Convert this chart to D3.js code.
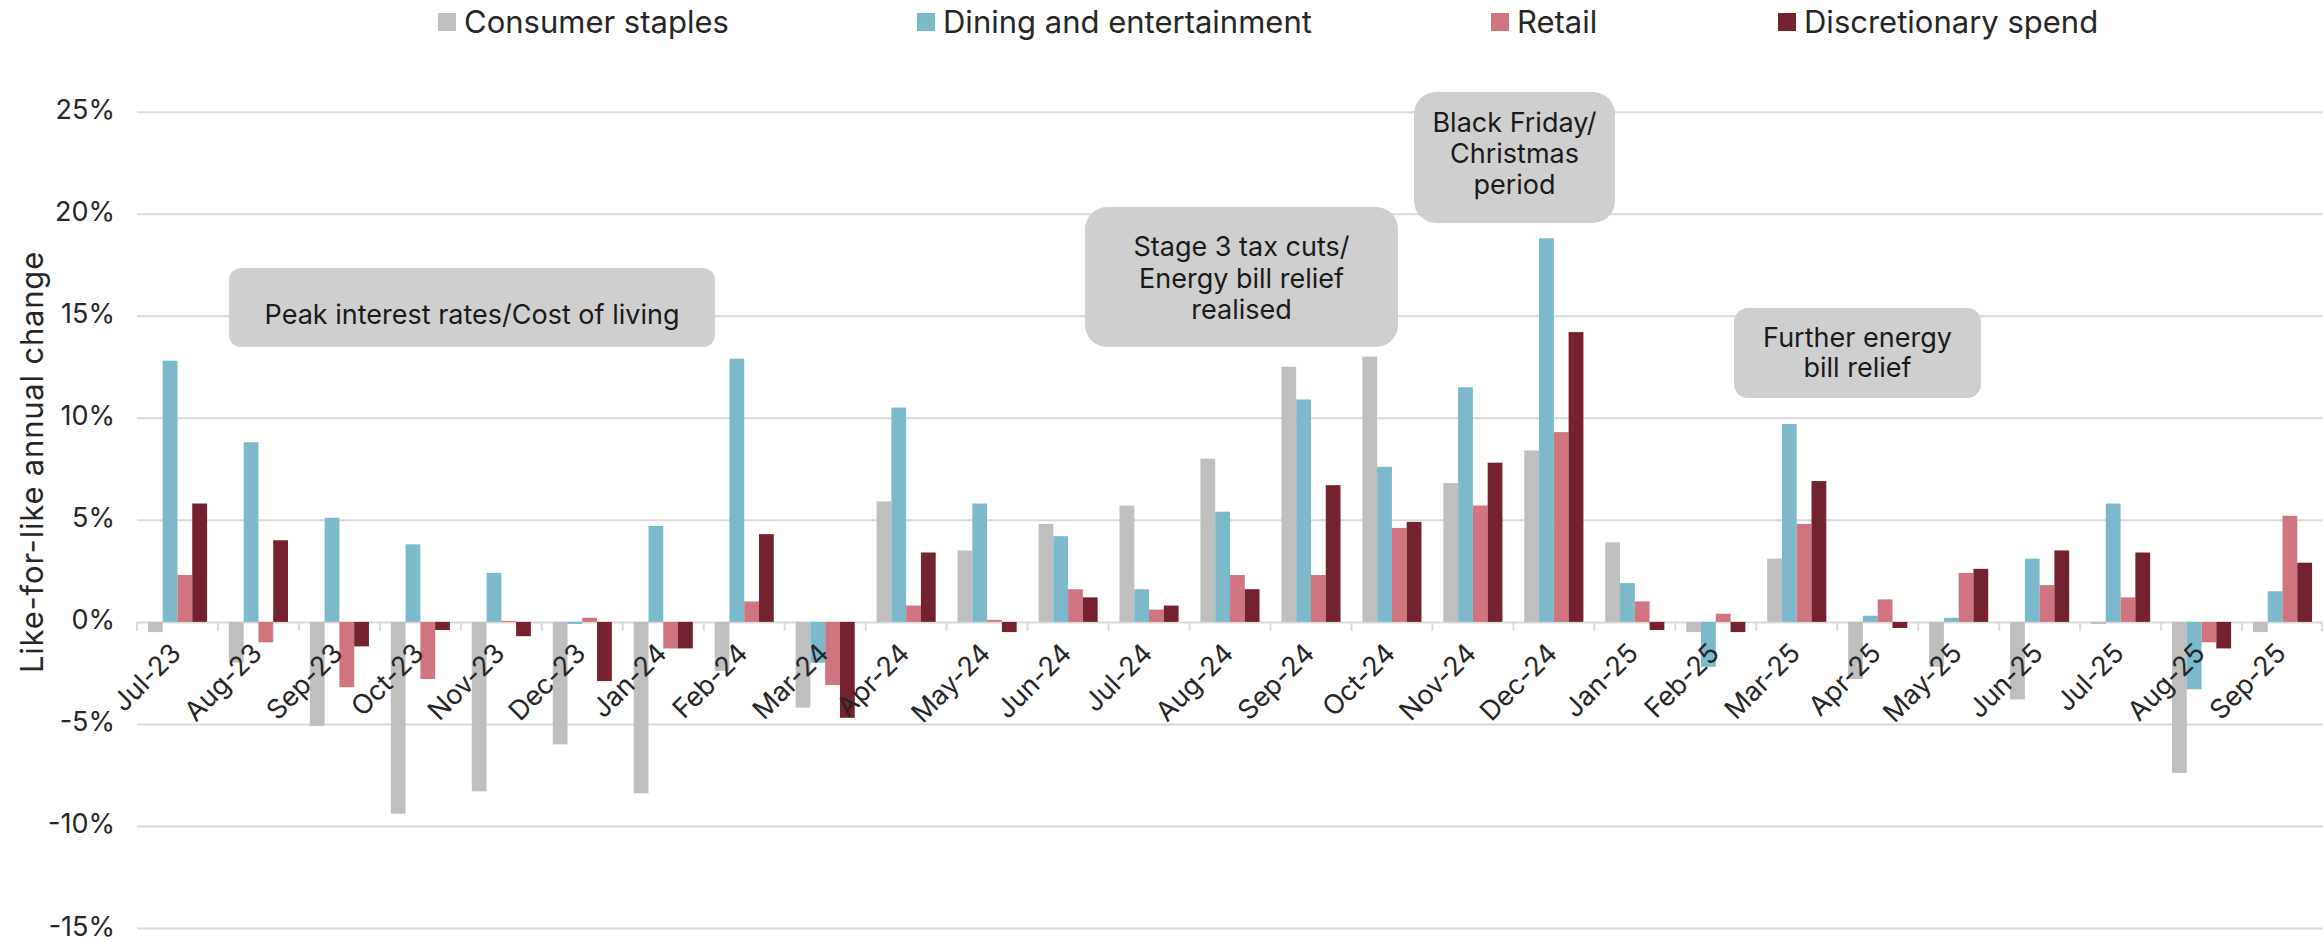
<!DOCTYPE html>
<html>
<head>
<meta charset="utf-8">
<script src="https://cdn.jsdelivr.net/npm/d3@7"></script>
<style>
  html, body { margin: 0; padding: 0; background: #ffffff; }
  svg { display: block; font-family: Inter, "Liberation Sans", sans-serif; }
</style>
</head>
<body>
<svg id="chart" width="2323" height="942"></svg>
<script>
// Like-for-like annual change in card spend, by category (%)
const months = ["Jul-23","Aug-23","Sep-23","Oct-23","Nov-23","Dec-23","Jan-24","Feb-24","Mar-24",
  "Apr-24","May-24","Jun-24","Jul-24","Aug-24","Sep-24","Oct-24","Nov-24","Dec-24",
  "Jan-25","Feb-25","Mar-25","Apr-25","May-25","Jun-25","Jul-25","Aug-25","Sep-25"];

const consumerStaples = [-0.5, -2.0, -5.1, -9.4, -8.3, -6.0, -8.4, -2.4, -4.2,
  5.9, 3.5, 4.8, 5.7, 8.0, 12.5, 13.0, 6.8, 8.4,
  3.9, -0.5, 3.1, -2.8, -2.2, -3.8, -0.1, -7.4, -0.5];

const diningEntertainment = [12.8, 8.8, 5.1, 3.8, 2.4, -0.1, 4.7, 12.9, -2.0,
  10.5, 5.8, 4.2, 1.6, 5.4, 10.9, 7.6, 11.5, 18.8,
  1.9, -2.2, 9.7, 0.3, 0.2, 3.1, 5.8, -3.3, 1.5];

const retail = [2.3, -1.0, -3.2, -2.8, 0.05, 0.2, -1.3, 1.0, -3.1,
  0.8, 0.1, 1.6, 0.6, 2.3, 2.3, 4.6, 5.7, 9.3,
  1.0, 0.4, 4.8, 1.1, 2.4, 1.8, 1.2, -1.0, 5.2];

const discretionarySpend = [5.8, 4.0, -1.2, -0.4, -0.7, -2.9, -1.3, 4.3, -4.7,
  3.4, -0.5, 1.2, 0.8, 1.6, 6.7, 4.9, 7.8, 14.2,
  -0.4, -0.5, 6.9, -0.3, 2.6, 3.5, 3.4, -1.3, 2.9];

const seriesNames = ["Consumer staples", "Dining and entertainment", "Retail", "Discretionary spend"];
const seriesValues = [consumerStaples, diningEntertainment, retail, discretionarySpend];
const seriesColors = ["#bfbfbf", "#7cb9cc", "#d07480", "#74222f"];

const yTickValues = [-15, -10, -5, 0, 5, 10, 15, 20, 25];
const yAxisTitle = "Like-for-like annual change";

const noteTexts = [
  ["Peak interest rates/Cost of living"],
  ["Stage 3 tax cuts/", "Energy bill relief", "realised"],
  ["Black Friday/", "Christmas", "period"],
  ["Further energy", "bill relief"]
];

// ---- layout ----
const plot = { left: 137, right: 2323, top: 111.7, bottom: 928 };

const svg = d3.select("#chart");

const x0 = d3.scaleBand()
  .domain(months)
  .range([plot.left, plot.right])
  .paddingInner(0.27)
  .paddingOuter(0.135);

const x1 = d3.scaleBand()
  .domain(seriesNames)
  .range([0, x0.bandwidth()])
  .padding(0);

const y = d3.scaleLinear()
  .domain([-15, 25])
  .range([plot.bottom, plot.top]);

const textColor = "#262626";
const gridColor = "#d9d9d9";

// gridlines + y labels
const yAxis = d3.axisLeft(y)
  .tickValues(yTickValues)
  .tickSize(-(plot.right - plot.left))
  .tickPadding(22)
  .tickFormat(d => d + "%");

const gy = svg.append("g")
  .attr("transform", `translate(${plot.left},0)`)
  .call(yAxis);
gy.select(".domain").remove();
gy.selectAll(".tick line").attr("stroke", gridColor).attr("stroke-width", 2);
gy.selectAll(".tick text")
  .attr("fill", textColor)
  .attr("dy", "0.26em")
  .style("font-size", "27px")
  .attr("font-family", "Inter, 'Liberation Sans', sans-serif");

// y axis title
svg.append("text")
  .attr("transform", `translate(43,462) rotate(-90)`)
  .attr("text-anchor", "middle")
  .attr("fill", textColor)
  .style("font-size", "31px")
  .style("letter-spacing", "0.8px")
  .text(yAxisTitle);

// category boundary ticks on the zero line
const boundaries = months.map(m => x0(m) - x0.step() * x0.paddingOuter());
boundaries.push(plot.right - 1);
svg.append("g")
  .selectAll("line")
  .data(boundaries)
  .join("line")
  .attr("x1", d => d).attr("x2", d => d)
  .attr("y1", y(0)).attr("y2", y(0) + 9)
  .attr("stroke", gridColor).attr("stroke-width", 2);

// bars
const groups = svg.append("g")
  .selectAll("g")
  .data(months)
  .join("g")
  .attr("transform", d => `translate(${x0(d)},0)`);

groups.selectAll("rect")
  .data((m, i) => seriesNames.map((s, k) => ({ series: s, value: seriesValues[k][i], color: seriesColors[k] })))
  .join("rect")
  .attr("x", d => x1(d.series))
  .attr("width", x1.bandwidth())
  .attr("y", d => y(Math.max(0, d.value)))
  .attr("height", d => Math.abs(y(d.value) - y(0)))
  .attr("fill", d => d.color);

// month labels, rotated
svg.append("g")
  .selectAll("text")
  .data(months)
  .join("text")
  .attr("transform", d => `translate(${x0(d) + x0.bandwidth() / 2 + 5},${y(0) + 33}) rotate(-45)`)
  .attr("text-anchor", "end")
  .attr("fill", textColor)
  .style("font-size", "27px")
  .text(d => d);

// legend
const legendX = [438, 917, 1491, 1778];
const legend = svg.append("g");
seriesNames.forEach((name, k) => {
  legend.append("rect")
    .attr("x", legendX[k]).attr("y", 13)
    .attr("width", 18).attr("height", 18)
    .attr("fill", seriesColors[k]);
  legend.append("text")
    .attr("x", legendX[k] + 26).attr("y", 33)
    .attr("fill", textColor)
    .style("font-size", "31px")
    .text(name);
});

// annotation call-outs
const noteBoxes = [
  { x: 229, y: 268, w: 486, h: 79, r: 12, base: 324, lh: 31 },
  { x: 1085, y: 207, w: 313, h: 140, r: 22, base: 256, lh: 31.5 },
  { x: 1414, y: 92, w: 201, h: 131, r: 22, base: 132, lh: 31 },
  { x: 1734, y: 308, w: 247, h: 90, r: 14, base: 347, lh: 30 }
];
const notes = svg.append("g");
noteBoxes.forEach((b, i) => {
  notes.append("rect")
    .attr("x", b.x).attr("y", b.y)
    .attr("width", b.w).attr("height", b.h)
    .attr("rx", b.r).attr("ry", b.r)
    .attr("fill", "#d0cfd0");
  const t = notes.append("text")
    .attr("text-anchor", "middle")
    .attr("fill", "#1a1a1a")
    .style("font-size", "27px");
  noteTexts[i].forEach((line, j) => {
    t.append("tspan")
      .attr("x", b.x + b.w / 2)
      .attr("y", b.base + j * b.lh)
      .text(line);
  });
});
</script>
</body>
</html>
